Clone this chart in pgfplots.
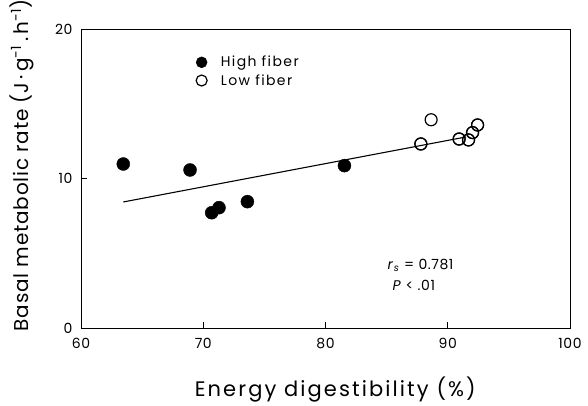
\documentclass[border=0pt]{standalone}
\usepackage{pgfplots}
\pgfplotsset{compat=1.18}
\usepackage{fontspec}
\setmainfont{Poppins}[LetterSpace=4]
\begin{document}
\begin{tikzpicture}
\useasboundingbox (-81pt,-78pt) rectangle (507pt,328pt);
\begin{axis}[
  at={(0pt,0pt)}, anchor=south west,
  scale only axis, width=489pt, height=299pt,
  xmin=60, xmax=100, ymin=0, ymax=20,
  xtick={60,70,80,90,100}, ytick={0,10,20},
  tick align=inside, xtick pos=bottom, ytick pos=left,
  major tick length=6pt,
  axis line style={line width=0.9pt},
  tick style={line width=0.9pt, black},
  /pgf/number format/assume math mode=true,
  ticklabel style={font=\fontsize{14}{17}\selectfont},
  xticklabel style={yshift=-7pt},
  yticklabel style={xshift=-5pt},
  xlabel={Energy digestibility (\%)},
  ylabel={Basal metabolic rate (J\,·\,g\textsuperscript{-1}\,.\,h\textsuperscript{-1})},
  xlabel style={font=\fontsize{21}{24}\selectfont\addfontfeatures{LetterSpace=10},
    at={(axis description cs:0.52,0)}, anchor=center, yshift=-62pt},
  ylabel style={font=\fontsize{20}{24}\selectfont,
    at={(axis description cs:-0.1207,0.545)}, anchor=center},
  legend style={draw=none, fill=none, at={(axis cs:69.1,18.46)}, anchor=north west,
    font=\fontsize{14}{17}\selectfont\addfontfeatures{LetterSpace=10}, row sep=2pt},
  legend cell align=left,
  legend image code/.code={\draw[#1, mark size=5.5pt] plot coordinates {(0pt,0pt)}; \path (-6pt,0pt) (17pt,0pt);},
]
\addplot[only marks, mark=*, mark size=6.5pt, black, mark options={fill=black}]
  coordinates {(63.46,10.97) (68.92,10.57) (70.69,7.71) (71.29,8.05) (73.61,8.45) (81.55,10.86)};
\addlegendentry{High fiber}
\addplot[only marks, mark=o, mark size=6pt, black, mark options={line width=1.2pt, fill=white}]
  coordinates {(88.64,13.93) (87.80,12.31) (90.93,12.64) (91.70,12.58) (92.03,13.07) (92.44,13.58)};
\addlegendentry{Low fiber}
\addplot[forget plot, black, line width=1.1pt] coordinates {(63.46,8.43) (91.5,12.78)};
\addplot[only marks, mark=o, mark size=6pt, black, mark options={line width=1.2pt, fill=white}, forget plot]
  coordinates {(87.80,12.31) (90.93,12.64) (91.70,12.58) (92.03,13.07) (92.44,13.58)};
\node[anchor=west, font=\fontsize{14}{17}\selectfont] at (axis cs:84.8,4.2) {\textit{r}\textsubscript{\textit{s}} = 0.781};
\node[anchor=west, font=\fontsize{14}{17}\selectfont] at (axis cs:85.2,2.85) {\textit{P} < .01};
\end{axis}
\end{tikzpicture}
\end{document}
